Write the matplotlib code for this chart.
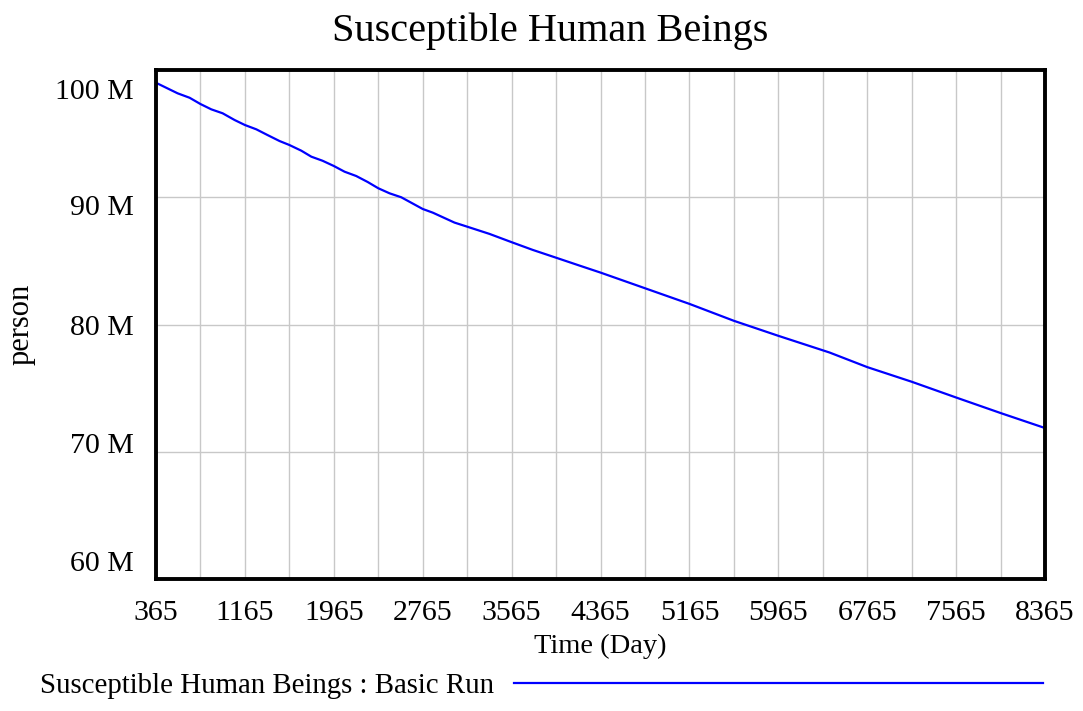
import matplotlib
matplotlib.use("Agg")
import matplotlib.pyplot as plt
from matplotlib.transforms import ScaledTranslation

# traced from the Vensim output (Basic Run)
days = [365, 560, 668, 765, 863, 965, 1073, 1165, 1268, 1369, 1477, 1565,
        1673, 1763, 1864, 1965, 2062, 2167, 2270, 2365, 2467, 2572, 2765,
        2856, 3051, 3165, 3366, 3565, 3756, 3965, 4176, 4365, 4765, 5165,
        5565, 5965, 6425, 6765, 7165, 7565, 7965, 8365]
susceptible_m = [99.0, 98.17, 97.82, 97.33, 96.91, 96.60, 96.07, 95.68, 95.34,
                 94.89, 94.42, 94.11, 93.66, 93.19, 92.87, 92.46, 92.01, 91.67,
                 91.20, 90.71, 90.31, 90.0, 89.08, 88.79, 88.01, 87.69, 87.12,
                 86.47, 85.86, 85.25, 84.63, 84.08, 82.85, 81.62, 80.29, 79.11,
                 77.80, 76.65, 75.50, 74.26, 73.04, 71.86]

x_ticks = [365, 1165, 1965, 2765, 3565, 4365, 5165, 5965, 6765, 7565, 8365]
x_grid = list(range(365, 8366, 400))
y_ticks = [60, 70, 80, 90, 100]
y_labels = ["60 M", "70 M", "80 M", "90 M", "100 M"]

plt.rcParams['font.family'] = ['Liberation Serif', 'DejaVu Serif']

fig = plt.figure(figsize=(10.83, 7.11), dpi=100)
ax = fig.add_axes([0.144, 0.1857, 0.821, 0.7158])

line, = ax.plot(days, susceptible_m, color='#0000ff', lw=1.6,
                label='Susceptible Human Beings : Basic Run')

ax.set_xlim(365, 8365)
ax.set_ylim(60, 100)
ax.set_xticks(x_grid, minor=True)
ax.set_xticks(x_ticks)
ax.set_yticks(y_ticks)
ax.set_yticklabels(y_labels)
ax.grid(True, which='both', axis='x', color='#c8c8c8', lw=1)
ax.grid(True, axis='y', color='#c8c8c8', lw=1)
ax.set_axisbelow(True)
ax.tick_params(which='both', length=0, labelsize=21.5)
ax.tick_params(axis='x', pad=15)
ax.tick_params(axis='y', pad=16)

# Vensim spreads the y labels evenly inside the frame
shifts_px = [18, 9, 0, -8, -19]
for lab, dy in zip(ax.get_yticklabels(), shifts_px):
    lab.set_transform(lab.get_transform() + ScaledTranslation(0, dy / 100, fig.dpi_scale_trans))

for s in ax.spines.values():
    s.set_linewidth(2.8)
    s.set_color('black')

fig.text(0.508, 1 - 31 / 711, 'Susceptible Human Beings', fontsize=29,
         ha='center', va='center')
ax.set_xlabel('Time (Day)', fontsize=20.5, labelpad=6)
ax.set_ylabel('person', fontsize=22, labelpad=14)

fig.legend(handles=[line], loc='center left', bbox_to_anchor=(0.013, 0.035),
           frameon=False, markerfirst=False, handlelength=18.3,
           handletextpad=0.7, fontsize=20.8)

fig.savefig('out.png', dpi=100)
